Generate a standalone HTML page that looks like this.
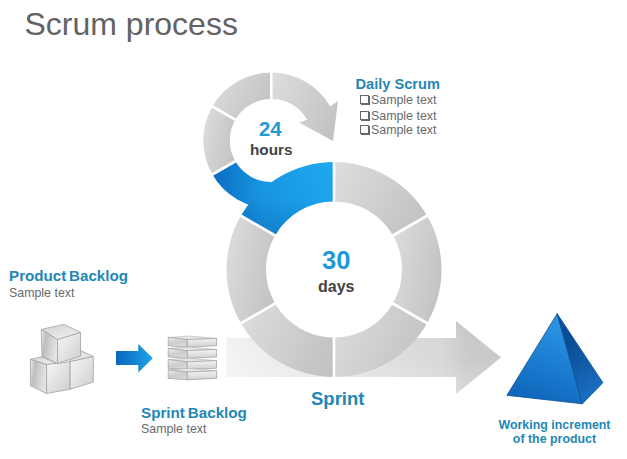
<!DOCTYPE html>
<html><head><meta charset="utf-8"><style>
html,body{margin:0;padding:0;background:#fff;}
body{width:627px;height:459px;position:relative;overflow:hidden;font-family:"Liberation Sans",sans-serif;}
.t{position:absolute;white-space:nowrap;line-height:1;}
.title{left:24.5px;top:8px;font-size:32px;color:#636363;}
.hd{font-weight:bold;color:#1f87b5;font-size:15px;}
.ds{font-size:14.6px;}
.st{color:#6a6a6a;font-size:12.4px;}
.cb{position:absolute;width:7px;height:7px;border:1px solid #666;box-shadow:1px 1px 0 #666;}
svg{position:absolute;left:0;top:0;}
</style></head><body>
<svg width="627" height="459" viewBox="0 0 627 459">
<defs>
<linearGradient id="gBlue" gradientUnits="userSpaceOnUse" x1="215" y1="165" x2="325" y2="170">
  <stop offset="0" stop-color="#0b6ec4"/><stop offset="0.45" stop-color="#1897e2"/><stop offset="1" stop-color="#1ea7ee"/>
</linearGradient>
<linearGradient id="gBlueOv" gradientUnits="userSpaceOnUse" x1="0" y1="165" x2="0" y2="240">
  <stop offset="0" stop-color="#0a4f9a" stop-opacity="0"/><stop offset="0.45" stop-color="#0a4f9a" stop-opacity="0.04"/><stop offset="1" stop-color="#0a4f9a" stop-opacity="0.4"/>
</linearGradient>
<linearGradient id="gArrow" gradientUnits="userSpaceOnUse" x1="226" y1="0" x2="501" y2="0">
  <stop offset="0" stop-color="#f3f3f3"/><stop offset="0.38" stop-color="#e6e6e6"/><stop offset="0.78" stop-color="#d8d8d8"/><stop offset="0.88" stop-color="#cbcbcb"/><stop offset="1" stop-color="#c8c8c8"/>
</linearGradient>
<linearGradient id="gArrowOv" gradientUnits="userSpaceOnUse" x1="0" y1="321" x2="0" y2="394">
  <stop offset="0" stop-color="#000" stop-opacity="0.03"/><stop offset="0.5" stop-color="#fff" stop-opacity="0"/><stop offset="1" stop-color="#fff" stop-opacity="0.25"/>
</linearGradient>
<linearGradient id="gSeg" x1="0" y1="0.2" x2="1" y2="0.6">
  <stop offset="0" stop-color="#dcdcdc"/><stop offset="1" stop-color="#c3c3c3"/>
</linearGradient>
<linearGradient id="gBlueArrow" x1="0" y1="0" x2="1" y2="0">
  <stop offset="0" stop-color="#0b66bd"/><stop offset="1" stop-color="#1ea2e6"/>
</linearGradient>
<linearGradient id="gCubeTop" x1="0" y1="0" x2="0.6" y2="1"><stop offset="0" stop-color="#d2d2d2"/><stop offset="1" stop-color="#eeeeee"/></linearGradient>
<linearGradient id="gCubeL" x1="0" y1="0" x2="1" y2="0.3"><stop offset="0" stop-color="#f0f0f0"/><stop offset="0.3" stop-color="#bebebe"/><stop offset="1" stop-color="#e4e4e4"/></linearGradient>
<linearGradient id="gCubeR" x1="0" y1="0" x2="1" y2="1"><stop offset="0" stop-color="#f8f8f8"/><stop offset="1" stop-color="#cdcdcd"/></linearGradient>
<linearGradient id="gSlabL" x1="0" y1="0" x2="0.4" y2="1"><stop offset="0" stop-color="#eeeeee"/><stop offset="0.6" stop-color="#cdcdcd"/><stop offset="1" stop-color="#d8d8d8"/></linearGradient>
<linearGradient id="gSlabR" x1="0" y1="0" x2="0" y2="1"><stop offset="0" stop-color="#f4f4f4"/><stop offset="1" stop-color="#cfcfcf"/></linearGradient>
<linearGradient id="gPyrF" gradientUnits="userSpaceOnUse" x1="565" y1="325" x2="535" y2="405"><stop offset="0" stop-color="#2a94e2"/><stop offset="0.6" stop-color="#1878cc"/><stop offset="1" stop-color="#0f64b8"/></linearGradient>
<linearGradient id="gPyrR" gradientUnits="userSpaceOnUse" x1="568" y1="345" x2="600" y2="390"><stop offset="0" stop-color="#0b4c96"/><stop offset="1" stop-color="#1a6fc2"/></linearGradient>
</defs>
<path d="M226.5,338 L456,338 L456,321 L501,357.5 L456,394 L456,377 L226.5,377 Z" fill="url(#gArrow)"/>
<path d="M226.5,338 L456,338 L456,321 L501,357.5 L456,394 L456,377 L226.5,377 Z" fill="url(#gArrowOv)"/>
<path d="M334.00,162.00 A107.50,107.50 0 0 1 427.10,215.75 L392.89,235.50 A68.00,68.00 0 0 0 334.00,201.50 Z" fill="url(#gSeg)"/>
<path d="M427.10,215.75 A107.50,107.50 0 0 1 427.10,323.25 L392.89,303.50 A68.00,68.00 0 0 0 392.89,235.50 Z" fill="url(#gSeg)"/>
<path d="M427.10,323.25 A107.50,107.50 0 0 1 334.00,377.00 L334.00,337.50 A68.00,68.00 0 0 0 392.89,303.50 Z" fill="url(#gSeg)"/>
<path d="M334.00,377.00 A107.50,107.50 0 0 1 240.90,323.25 L275.11,303.50 A68.00,68.00 0 0 0 334.00,337.50 Z" fill="url(#gSeg)"/>
<path d="M240.90,323.25 A107.50,107.50 0 0 1 240.90,215.75 L275.11,235.50 A68.00,68.00 0 0 0 275.11,303.50 Z" fill="url(#gSeg)"/>
<path d="M212.41,174.50 A68.00,68.00 0 0 1 212.41,106.50 L235.36,119.75 A41.50,41.50 0 0 0 235.36,161.25 Z" fill="url(#gSeg)"/>
<path d="M212.41,106.50 A68.00,68.00 0 0 1 271.30,72.50 L271.30,99.00 A41.50,41.50 0 0 0 235.36,119.75 Z" fill="url(#gSeg)"/>
<path d="M271.30,72.50 A68,68 0 0 1 330.19,106.50 L338,101 L333,141 L299,122.5 L307.24,119.75 A41,41 0 0 0 271.30,99.00 Z" fill="url(#gSeg)"/>
<path d="M240.90,215.75 A107.50,107.50 0 0 1 334.00,162.00 L334.00,201.50 A68.00,68.00 0 0 0 275.11,235.50 Z" fill="url(#gBlue)"/>
<path d="M271.30,208.50 A68.00,68.00 0 0 1 212.41,174.50 L235.36,161.25 A41.50,41.50 0 0 0 271.30,182.00 Z" fill="url(#gBlue)"/>
<path d="M240.90,215.75 A107.50,107.50 0 0 1 334.00,162.00 L334.00,201.50 A68.00,68.00 0 0 0 275.11,235.50 Z" fill="url(#gBlueOv)"/>
<line x1="334.00" y1="203.50" x2="334.00" y2="160.00" stroke="#fff" stroke-width="2.6"/>
<line x1="391.16" y1="236.50" x2="428.83" y2="214.75" stroke="#fff" stroke-width="2.6"/>
<line x1="391.16" y1="302.50" x2="428.83" y2="324.25" stroke="#fff" stroke-width="2.6"/>
<line x1="334.00" y1="335.50" x2="334.00" y2="379.00" stroke="#fff" stroke-width="2.6"/>
<line x1="276.84" y1="302.50" x2="239.17" y2="324.25" stroke="#fff" stroke-width="2.6"/>
<line x1="276.84" y1="236.50" x2="239.17" y2="214.75" stroke="#fff" stroke-width="2.6"/>
<line x1="271.30" y1="101.00" x2="271.30" y2="70.50" stroke="#fff" stroke-width="2.6"/>
<line x1="237.09" y1="160.25" x2="210.68" y2="175.50" stroke="#fff" stroke-width="2.6"/>
<line x1="237.09" y1="120.75" x2="210.68" y2="105.50" stroke="#fff" stroke-width="2.6"/>
<path d="M116,351 L138.3,351 L138.3,344 L152.8,358.2 L138.3,372.4 L138.3,365 L116,365 Z" fill="url(#gBlueArrow)"/>
<polygon points="80.5,350.5 93.3,356.4 69.9,361.8 69.9,356.0" fill="url(#gCubeTop)" stroke="#a2a2a2" stroke-width="0.8" stroke-linejoin="round"/>
<polygon points="69.9,361.8 93.3,356.4 93.3,382.1 69.9,389.3" fill="url(#gCubeR)" stroke="#a2a2a2" stroke-width="0.8" stroke-linejoin="round"/>
<polygon points="30.4,359.4 42.0,356.7 57.6,363.6 46.6,364.5" fill="url(#gCubeTop)" stroke="#a2a2a2" stroke-width="0.8" stroke-linejoin="round"/>
<polygon points="30.4,359.4 46.6,364.5 46.6,393.5 30.4,385.7" fill="url(#gCubeL)" stroke="#a2a2a2" stroke-width="0.8" stroke-linejoin="round"/>
<polygon points="46.6,364.5 69.9,361.8 69.9,389.3 46.6,393.5" fill="url(#gCubeR)" stroke="#a2a2a2" stroke-width="0.8" stroke-linejoin="round"/>
<polygon points="41.3,329.4 64.2,324.4 80.5,332.5 57.6,339.6" fill="url(#gCubeTop)" stroke="#a2a2a2" stroke-width="0.8" stroke-linejoin="round"/>
<polygon points="41.3,329.4 57.6,339.6 57.6,363.6 42.0,356.7" fill="url(#gCubeL)" stroke="#a2a2a2" stroke-width="0.8" stroke-linejoin="round"/>
<polygon points="57.6,339.6 80.5,332.5 80.5,356.0 57.6,363.6" fill="url(#gCubeR)" stroke="#a2a2a2" stroke-width="0.8" stroke-linejoin="round"/>
<polygon points="168.2,337.4 189.4,336.0 216.6,338.4 187.3,339.6" fill="#e6e6e6" stroke="#a8a8a8" stroke-width="0.5" stroke-linejoin="round"/>
<polygon points="168.2,337.4 187.3,339.6 187.3,347.2 168.2,345.8" fill="url(#gSlabL)" stroke="#9c9c9c" stroke-width="0.7" stroke-linejoin="round"/>
<polygon points="187.3,339.6 216.6,338.4 216.6,345.8 187.3,347.2" fill="url(#gSlabR)" stroke="#9c9c9c" stroke-width="0.7" stroke-linejoin="round"/>
<polygon points="168.2,348.4 189.4,347.0 216.6,349.4 187.3,350.6" fill="#e6e6e6" stroke="#a8a8a8" stroke-width="0.5" stroke-linejoin="round"/>
<polygon points="168.2,348.4 187.3,350.6 187.3,358.4 168.2,357.0" fill="url(#gSlabL)" stroke="#9c9c9c" stroke-width="0.7" stroke-linejoin="round"/>
<polygon points="187.3,350.6 216.6,349.4 216.6,357.0 187.3,358.4" fill="url(#gSlabR)" stroke="#9c9c9c" stroke-width="0.7" stroke-linejoin="round"/>
<polygon points="168.2,359.6 189.4,358.2 216.6,360.6 187.3,361.8" fill="#e6e6e6" stroke="#a8a8a8" stroke-width="0.5" stroke-linejoin="round"/>
<polygon points="168.2,359.6 187.3,361.8 187.3,369.6 168.2,368.2" fill="url(#gSlabL)" stroke="#9c9c9c" stroke-width="0.7" stroke-linejoin="round"/>
<polygon points="187.3,361.8 216.6,360.6 216.6,368.2 187.3,369.6" fill="url(#gSlabR)" stroke="#9c9c9c" stroke-width="0.7" stroke-linejoin="round"/>
<polygon points="168.2,369.8 189.4,368.4 216.6,370.8 187.3,372.0" fill="#e6e6e6" stroke="#a8a8a8" stroke-width="0.5" stroke-linejoin="round"/>
<polygon points="168.2,369.8 187.3,372.0 187.3,379.8 168.2,378.4" fill="url(#gSlabL)" stroke="#9c9c9c" stroke-width="0.7" stroke-linejoin="round"/>
<polygon points="187.3,372.0 216.6,370.8 216.6,378.4 187.3,379.8" fill="url(#gSlabR)" stroke="#9c9c9c" stroke-width="0.7" stroke-linejoin="round"/>
<polygon points="557.2,313.7 506.9,395.3 582.3,403.8" fill="url(#gPyrF)" stroke="#0b4f95" stroke-width="0.8" stroke-linejoin="round"/>
<polygon points="557.2,313.7 582.3,403.8 602.9,382.7" fill="url(#gPyrR)" stroke="#0b4f95" stroke-width="0.8" stroke-linejoin="round"/>
</svg>
<div class="t title">Scrum process</div>
<div class="t hd" style="left:9px;top:268px;word-spacing:-1.6px;font-size:15.2px;">Product Backlog</div>
<div class="t st" style="left:9px;top:286.5px;">Sample text</div>
<div class="t hd" style="left:141px;top:405px;word-spacing:-1.3px;font-size:15.2px;">Sprint Backlog</div>
<div class="t st" style="left:141px;top:423px;">Sample text</div>
<div class="t hd ds" style="left:355.5px;top:76.5px;">Daily Scrum</div>
<div class="cb" style="left:359.5px;top:94.5px;"></div><div class="t st" style="left:371px;top:93.5px;">Sample text</div>
<div class="cb" style="left:359.5px;top:110.5px;"></div><div class="t st" style="left:371px;top:109.8px;">Sample text</div>
<div class="cb" style="left:359.5px;top:125px;"></div><div class="t st" style="left:371px;top:124.4px;">Sample text</div>
<div class="t" style="left:259px;top:118.7px;font-size:20.3px;font-weight:bold;color:#1e9ad6;">24</div>
<div class="t" style="left:250px;top:142.2px;font-size:15.3px;font-weight:bold;color:#444;">hours</div>
<div class="t" style="left:322px;top:248px;font-size:25.5px;font-weight:bold;color:#1e9ad6;">30</div>
<div class="t" style="left:318px;top:279px;font-size:16px;font-weight:bold;color:#444;">days</div>
<div class="t" style="left:311px;top:390px;font-size:18.5px;font-weight:bold;color:#1f87b5;">Sprint</div>
<div class="t hd" style="left:498px;top:418px;font-size:12.4px;text-align:center;width:113px;line-height:14px;">Working increment<br>of the product</div>
</body></html>
